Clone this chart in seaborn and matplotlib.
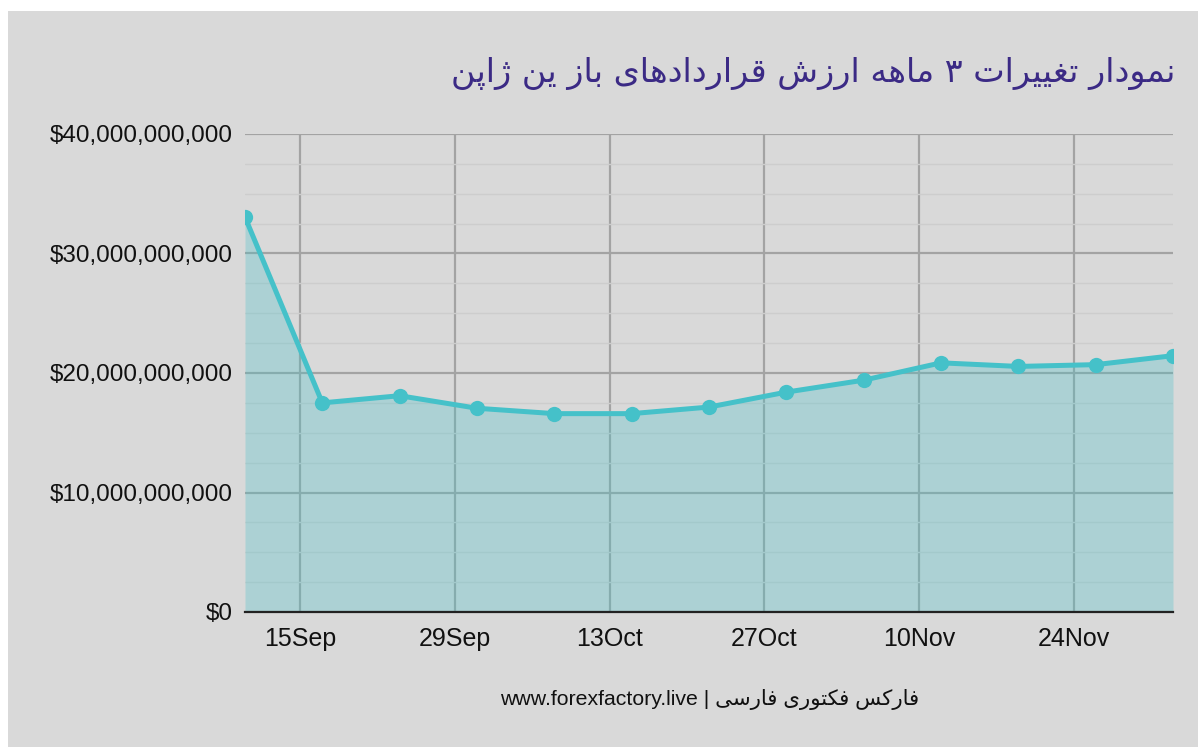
import matplotlib
matplotlib.use("Agg")
import matplotlib.pyplot as plt
import matplotlib.dates as mdates
from matplotlib.patches import Rectangle
from matplotlib.ticker import FuncFormatter, MultipleLocator
import seaborn as sns
import pandas as pd
import numpy as np

# ---------------- data ----------------
dates = ["2024-09-10", "2024-09-17", "2024-09-24", "2024-10-01", "2024-10-08",
         "2024-10-15", "2024-10-22", "2024-10-29", "2024-11-05", "2024-11-12",
         "2024-11-19", "2024-11-26", "2024-12-03"]
values = [33.05e9, 17.5e9, 18.1e9, 17.05e9, 16.6e9, 16.6e9, 17.15e9,
          18.4e9, 19.4e9, 20.85e9, 20.55e9, 20.7e9, 21.45e9]
tick_dates = ["2024-09-15", "2024-09-29", "2024-10-13", "2024-10-27",
              "2024-11-10", "2024-11-24"]
y_ticks = [0, 10e9, 20e9, 30e9, 40e9]
title_text = "نمودار تغییرات ۳ ماهه ارزش قراردادهای باز ین ژاپن"
footer_site = "www.forexfactory.live"
footer_fa = "فارکس فکتوری فارسی"

# ------------- minimal Persian shaping (presentation forms) -------------
FORMS = {
    '\u0627': ('\uFE8D', '\uFE8E', None, None),      # ا
    '\u0628': ('\uFE8F', '\uFE90', '\uFE91', '\uFE92'),  # ب
    '\u067E': ('\uFB56', '\uFB57', '\uFB58', '\uFB59'),  # پ
    '\u062A': ('\uFE95', '\uFE96', '\uFE97', '\uFE98'),  # ت
    '\u062F': ('\uFEA9', '\uFEAA', None, None),      # د
    '\u0631': ('\uFEAD', '\uFEAE', None, None),      # ر
    '\u0632': ('\uFEAF', '\uFEB0', None, None),      # ز
    '\u0698': ('\uFB8A', '\uFB8B', None, None),      # ژ
    '\u0633': ('\uFEB1', '\uFEB2', '\uFEB3', '\uFEB4'),  # س
    '\u0634': ('\uFEB5', '\uFEB6', '\uFEB7', '\uFEB8'),  # ش
    '\u063A': ('\uFECD', '\uFECE', '\uFECF', '\uFED0'),  # غ
    '\u0641': ('\uFED1', '\uFED2', '\uFED3', '\uFED4'),  # ف
    '\u0642': ('\uFED5', '\uFED6', '\uFED7', '\uFED8'),  # ق
    '\u06A9': ('\uFB8E', '\uFB8F', '\uFB90', '\uFB91'),  # ک
    '\u0645': ('\uFEE1', '\uFEE2', '\uFEE3', '\uFEE4'),  # م
    '\u0646': ('\uFEE5', '\uFEE6', '\uFEE7', '\uFEE8'),  # ن
    '\u0647': ('\uFEE9', '\uFEEA', '\uFEEB', '\uFEEC'),  # ه
    '\u0648': ('\uFEED', '\uFEEE', None, None),      # و
    '\u06CC': ('\uFBFC', '\uFBFD', '\uFBFE', '\uFBFF'),  # ی
}


def shape_fa(text):
    out = []
    n = len(text)
    for i, ch in enumerate(text):
        if ch not in FORMS:
            out.append(ch)
            continue
        iso, fin, ini, med = FORMS[ch]
        prev = text[i - 1] if i > 0 else None
        nxt = text[i + 1] if i < n - 1 else None
        jp = prev in FORMS and FORMS[prev][2] is not None
        jn = ini is not None and nxt in FORMS
        if jp and jn:
            out.append(med)
        elif jp:
            out.append(fin)
        elif jn:
            out.append(ini)
        else:
            out.append(iso)
    return "".join(out)[::-1]


df = pd.DataFrame({"date": pd.to_datetime(dates), "value": values})

# ---------------- style ----------------
sns.set_theme(style="white")
plt.rcParams["font.family"] = ["Liberation Sans", "DejaVu Sans"]

BG = "#d9d9d9"
LINE = "#45c1c9"

fig = plt.figure(figsize=(11.98, 7.47), dpi=100, facecolor="white")
fig.patches.append(Rectangle((8 / 1198, 0), 1 - 8 / 1198, 1 - 11 / 747,
                             transform=fig.transFigure, facecolor=BG,
                             edgecolor="none", zorder=-10))
ax = fig.add_axes([245 / 1198, 1 - 612 / 747, (1173 - 245) / 1198, (612 - 134) / 747])
ax.set_facecolor(BG)

# fill and line
ax.fill_between(df["date"], df["value"], 0, color=LINE, alpha=0.3, lw=0, zorder=3)
sns.lineplot(data=df, x="date", y="value", ax=ax, color=LINE, lw=3.6,
             marker="o", markersize=11, markeredgewidth=0, zorder=4, clip_on=True)

ax.set_xlim(df["date"].iloc[0], df["date"].iloc[-1])
ax.set_ylim(0, 40e9)

ax.set_yticks(y_ticks)
ax.yaxis.set_minor_locator(MultipleLocator(2.5e9))
ax.yaxis.set_major_formatter(FuncFormatter(lambda v, p: "${:,.0f}".format(v)))
ax.set_xticks(pd.to_datetime(tick_dates))
ax.xaxis.set_major_formatter(mdates.DateFormatter("%d%b"))

ax.grid(True, which="major", axis="both", color="#a3a3a3", lw=1.6, zorder=1)
ax.grid(True, which="minor", axis="y", color="#cdcdcd", lw=1.0, zorder=0.5)
ax.set_axisbelow(True)

for s in ["top", "right", "left"]:
    ax.spines[s].set_visible(False)
ax.spines["bottom"].set_color("#222222")
ax.spines["bottom"].set_linewidth(1.6)
ax.spines["bottom"].set_zorder(5)

ax.tick_params(axis="both", which="both", length=0, colors="#111111")
ax.tick_params(axis="y", labelsize=17.5, pad=9)
ax.tick_params(axis="x", labelsize=18, pad=11)
ax.set_xlabel("")
ax.set_ylabel("")

fig.text(1175 / 1198, 1 - 73 / 747, shape_fa(title_text), ha="right", va="center",
         fontsize=24, color="#3b2a85", family=["DejaVu Sans"])
fig.text(710 / 1198, 1 - 700 / 747, footer_site + " | " + shape_fa(footer_fa),
         ha="center", va="center", fontsize=15.3, color="#111111",
         family=["Liberation Sans", "DejaVu Sans"])

fig.savefig("out.png", dpi=100, facecolor="white")
